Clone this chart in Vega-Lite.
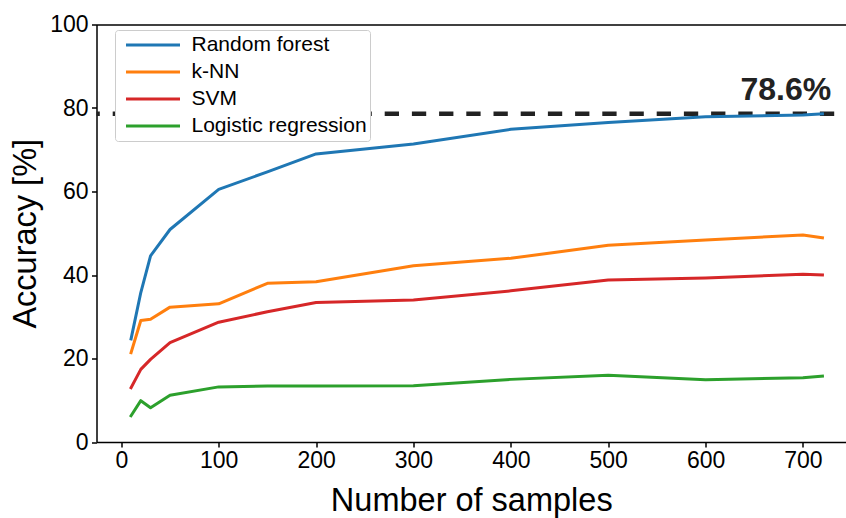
{
  "$schema": "https://vega.github.io/schema/vega-lite/v6.json",
  "width": 749.5,
  "height": 417.5,
  "autosize": {"type": "none"},
  "padding": {"left": 96.5, "top": 24.5, "right": 0, "bottom": 76},
  "background": "white",
  "config": {
    "font": "Liberation Sans",
    "view": {"stroke": null},
    "axis": {
      "domain": true, "domainColor": "black", "domainWidth": 1.5,
      "ticks": true, "tickColor": "black", "tickWidth": 1.5, "tickSize": 5,
      "labelColor": "black", "labelFontSize": 23, "labelFont": "Liberation Sans",
      "titleFont": "Liberation Sans", "titleFontSize": 32.5, "titleFontWeight": "normal", "titleColor": "black",
      "grid": false
    }
  },
  "datasets": {
    "acc": [
      {"n": 10, "acc": 24.7, "model": "Random forest"},
      {"n": 20, "acc": 35.8, "model": "Random forest"},
      {"n": 30, "acc": 44.6, "model": "Random forest"},
      {"n": 50, "acc": 50.9, "model": "Random forest"},
      {"n": 100, "acc": 60.5, "model": "Random forest"},
      {"n": 150, "acc": 64.7, "model": "Random forest"},
      {"n": 200, "acc": 69.0, "model": "Random forest"},
      {"n": 300, "acc": 71.4, "model": "Random forest"},
      {"n": 400, "acc": 74.9, "model": "Random forest"},
      {"n": 500, "acc": 76.5, "model": "Random forest"},
      {"n": 600, "acc": 77.9, "model": "Random forest"},
      {"n": 700, "acc": 78.3, "model": "Random forest"},
      {"n": 720, "acc": 78.6, "model": "Random forest"},
      {"n": 10, "acc": 21.4, "model": "k-NN"},
      {"n": 20, "acc": 29.1, "model": "k-NN"},
      {"n": 30, "acc": 29.4, "model": "k-NN"},
      {"n": 50, "acc": 32.3, "model": "k-NN"},
      {"n": 100, "acc": 33.1, "model": "k-NN"},
      {"n": 150, "acc": 38.0, "model": "k-NN"},
      {"n": 200, "acc": 38.4, "model": "k-NN"},
      {"n": 300, "acc": 42.2, "model": "k-NN"},
      {"n": 400, "acc": 44.0, "model": "k-NN"},
      {"n": 500, "acc": 47.1, "model": "k-NN"},
      {"n": 600, "acc": 48.4, "model": "k-NN"},
      {"n": 700, "acc": 49.6, "model": "k-NN"},
      {"n": 720, "acc": 48.9, "model": "k-NN"},
      {"n": 10, "acc": 13.0, "model": "SVM"},
      {"n": 20, "acc": 17.4, "model": "SVM"},
      {"n": 30, "acc": 19.8, "model": "SVM"},
      {"n": 50, "acc": 23.8, "model": "SVM"},
      {"n": 100, "acc": 28.7, "model": "SVM"},
      {"n": 150, "acc": 31.2, "model": "SVM"},
      {"n": 200, "acc": 33.4, "model": "SVM"},
      {"n": 300, "acc": 34.0, "model": "SVM"},
      {"n": 400, "acc": 36.2, "model": "SVM"},
      {"n": 500, "acc": 38.8, "model": "SVM"},
      {"n": 600, "acc": 39.3, "model": "SVM"},
      {"n": 700, "acc": 40.2, "model": "SVM"},
      {"n": 720, "acc": 40.0, "model": "SVM"},
      {"n": 10, "acc": 6.3, "model": "Logistic regression"},
      {"n": 20, "acc": 9.9, "model": "Logistic regression"},
      {"n": 30, "acc": 8.2, "model": "Logistic regression"},
      {"n": 50, "acc": 11.2, "model": "Logistic regression"},
      {"n": 100, "acc": 13.2, "model": "Logistic regression"},
      {"n": 150, "acc": 13.4, "model": "Logistic regression"},
      {"n": 200, "acc": 13.4, "model": "Logistic regression"},
      {"n": 300, "acc": 13.5, "model": "Logistic regression"},
      {"n": 400, "acc": 15.0, "model": "Logistic regression"},
      {"n": 500, "acc": 16.0, "model": "Logistic regression"},
      {"n": 600, "acc": 14.9, "model": "Logistic regression"},
      {"n": 700, "acc": 15.4, "model": "Logistic regression"},
      {"n": 720, "acc": 15.8, "model": "Logistic regression"}
    ],
    "ref": [
      {"x": -25.5, "x2": 735, "y": 78.6, "label": "78.6%", "tx": 729}
    ]
  },
  "resolve": {"axis": {"x": "independent"}},
  "layer": [
    {
      "data": {"name": "ref"},
      "mark": {"type": "rule", "strokeDash": [14.3, 12.9], "strokeDashOffset": 11, "strokeWidth": 4.5, "color": "#222222", "strokeCap": "butt"},
      "encoding": {
        "x": {"field": "x", "type": "quantitative", "scale": {"domain": [-25.5, 744.2], "nice": false, "zero": false},
              "axis": {"orient": "top", "labels": false, "ticks": false, "title": null, "domain": true}},
        "x2": {"field": "x2"},
        "y": {"field": "y", "type": "quantitative", "scale": {"domain": [0, 100], "nice": false}}
      }
    },
    {
      "data": {"name": "acc"},
      "mark": {"type": "line", "strokeWidth": 3, "strokeCap": "square", "strokeJoin": "round"},
      "encoding": {
        "x": {"field": "n", "type": "quantitative", "scale": {"domain": [-25.5, 744.2], "nice": false, "zero": false},
              "axis": {"values": [0, 100, 200, 300, 400, 500, 600, 700], "title": "Number of samples", "labelPadding": 2, "titlePadding": 12, "labelFlush": false}},
        "y": {"field": "acc", "type": "quantitative", "scale": {"domain": [0, 100], "nice": false},
              "axis": {"values": [0, 20, 40, 60, 80, 100], "title": "Accuracy [%]", "labelPadding": 3.5, "titlePadding": 7, "labelFlush": false}},
        "color": {
          "field": "model", "type": "nominal",
          "scale": {"domain": ["Random forest", "k-NN", "SVM", "Logistic regression"], "range": ["#1f77b4", "#ff7f0e", "#d62728", "#2ca02c"]},
          "legend": {
            "title": null, "orient": "none", "legendX": 18.5, "legendY": 5.5,
            "symbolType": "stroke", "symbolSize": 2916, "symbolStrokeWidth": 3,
            "labelFontSize": 21, "labelFont": "Liberation Sans", "labelColor": "black", "labelLimit": 0,
            "padding": 3, "symbolOffset": 6.5, "labelOffset": 10, "clipHeight": 24, "rowPadding": 3,
            "strokeColor": "#cccccc", "fillColor": "white", "cornerRadius": 3, "zindex": 1
          }
        }
      }
    },
    {
      "data": {"name": "ref"},
      "mark": {"type": "text", "align": "right", "baseline": "alphabetic", "dy": -14, "fontSize": 32, "fontWeight": "bold", "font": "Liberation Sans", "color": "#222222"},
      "encoding": {
        "x": {"field": "tx", "type": "quantitative", "axis": null},
        "y": {"field": "y", "type": "quantitative"},
        "text": {"field": "label"}
      }
    }
  ]
}
